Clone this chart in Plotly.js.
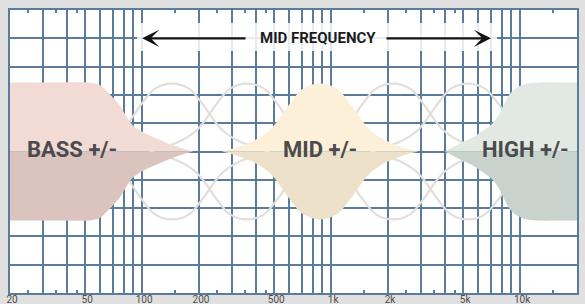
<!DOCTYPE html>
<html>
<head>
<meta charset="utf-8">
<script src="https://cdn.plot.ly/plotly-3.0.1.min.js"></script>
<style>
html,body{margin:0;padding:0;background:#e0e0e0;}
#chart{width:585px;height:304px;}
</style>
</head>
<body>
<div id="chart"></div>
<script>
// ---- data (frequency in Hz, gain in dB) ----
const bassFreq = [20, 35, 51.7, 56.4, 59.9, 70.1, 76.4, 83.2, 89.5, 101.3, 119.8, 145.8, 186];
const bassGain = [12.2, 12.2, 12.2, 12.0, 11.7, 9.5, 8.1, 6.0, 4.6, 3.4, 2.3, 1.1, 0];

const midFreq = [264.6, 310, 372, 420, 475, 524, 606, 710, 873, 1075, 1259, 1456, 1607, 1815, 2051, 2463, 2884];
const midGain = [0, 0.6, 1.6, 2.5, 3.8, 5.5, 8.5, 11.1, 12.0, 11.1, 8.5, 5.5, 3.8, 2.5, 1.6, 0.6, 0];

const highFreq = [4004, 4808, 5637, 6370, 7192, 7834, 8325, 8850, 9640, 10870, 12740, 16000, 20000];
const highGain = [0, 1.4, 2.5, 3.7, 5.1, 6.9, 8.7, 10.2, 11.3, 12.0, 12.2, 12.2, 12.2];

// faint boost/cut bell curves: centres (Hz) and profile (offset in decades, gain dB)
const bellCenters = [144, 359, 2125, 5300];
const bellOffsets = [-0.519, -0.450, -0.370, -0.317, -0.265, -0.222, -0.159, -0.090, 0, 0.090, 0.159, 0.222, 0.265, 0.317, 0.370, 0.450, 0.519];
const bellGain = [0, 0.6, 1.6, 2.5, 3.8, 5.5, 8.5, 11.1, 12.0, 11.1, 8.5, 5.5, 3.8, 2.5, 1.6, 0.6, 0];

const gridVals = [20,30,40,50,60,70,80,90,100,200,300,400,500,600,700,800,900,1000,2000,3000,4000,5000,6000,7000,8000,9000,10000,20000];
const gridText = ['20','','','50','','','','','100','200','','','500','','','','','1k','2k','','','5k','','','','','10k','20k'];
const minorVals = [25,35,45,150,250,350,450,1500,2500,3500,4500,15000];

const bandLabels = ['BASS +/-', 'MID +/-', 'HIGH +/-'];
const bandLabelFreq = [42.6, 873, 10620];
const midFreqLabel = 'MID FREQUENCY';

// ---- styles ----
const gridColor = '#5b7b9a';
const curveColor = '#e2dfdb';
const bands = [
  {f: bassFreq, g: bassGain, up: '#f2dad5', dn: '#dbc4bd'},
  {f: midFreq,  g: midGain,  up: '#fdf0d9', dn: '#eee1c9'},
  {f: highFreq, g: highGain, up: '#e1e9e2', dn: '#c9d3cd'}
];

const traces = [];
bellCenters.forEach(c => {
  const xs = bellOffsets.map(o => c * Math.pow(10, o));
  [1, -1].forEach(s => {
    traces.push({
      type: 'scatter', mode: 'lines', x: xs, y: bellGain.map(g => s * g),
      line: {color: curveColor, width: 2.2, shape: 'spline'}, hoverinfo: 'skip'
    });
  });
});
bands.forEach(b => {
  traces.push({
    type: 'scatter', mode: 'lines', x: b.f, y: b.g.map(g => -g),
    fill: 'tozeroy', fillcolor: b.dn, line: {width: 0, shape: 'spline', color: b.dn}, hoverinfo: 'skip'
  });
  traces.push({
    type: 'scatter', mode: 'lines', x: b.f, y: b.g,
    fill: 'tozeroy', fillcolor: b.up, line: {width: 0, shape: 'spline', color: b.up}, hoverinfo: 'skip'
  });
});

const annotations = bandLabels.map((t, i) => ({
  x: Math.log10(bandLabelFreq[i]), y: 0.4, xref: 'x', yref: 'y',
  text: t, showarrow: false, xanchor: 'center', yanchor: 'middle',
  font: {family: 'Roboto, sans-serif', size: 22, color: '#4b4b4d', weight: 'bold'}
}));
annotations.push({
  x: Math.log10(848), y: 20, xref: 'x', yref: 'y', text: midFreqLabel,
  showarrow: false, xanchor: 'center', yanchor: 'middle',
  font: {family: 'Roboto, sans-serif', size: 15, color: '#1c1c1e', weight: 'bold'}
});
annotations.push({
  x: Math.log10(100), y: 20, ax: Math.log10(359), ay: 20, xref: 'x', yref: 'y', axref: 'x', ayref: 'y',
  text: '', showarrow: true, arrowhead: 3, arrowsize: 1.3, arrowwidth: 2.2, arrowcolor: '#141414', standoff: 0
});
annotations.push({
  x: Math.log10(7016), y: 20, ax: Math.log10(1929), ay: 20, xref: 'x', yref: 'y', axref: 'x', ayref: 'y',
  text: '', showarrow: true, arrowhead: 3, arrowsize: 1.3, arrowwidth: 2.2, arrowcolor: '#141414', standoff: 0
});

const layout = {
  width: 585, height: 304,
  margin: {l: 10, r: 8, t: 10, b: 11},
  paper_bgcolor: '#e0e0e0', plot_bgcolor: '#ffffff',
  showlegend: false,
  xaxis: {
    type: 'log', range: [Math.log10(20), Math.log10(20000)],
    tickmode: 'array', tickvals: gridVals, ticktext: gridText,
    showgrid: true, gridcolor: gridColor, gridwidth: 2,
    ticks: '', showline: true, linecolor: gridColor, linewidth: 2, mirror: 'ticks',
    tickfont: {family: 'Roboto, sans-serif', size: 10, color: '#4a4a4a'},
    ticklabelshift: 2, ticklabelstandoff: -4,
    minor: {tickmode: 'array', tickvals: minorVals, ticks: 'inside', ticklen: 3, tickwidth: 2, tickcolor: gridColor, showgrid: false},
    zeroline: false, fixedrange: true
  },
  yaxis: {
    range: [-25, 25], dtick: 5, tick0: 0,
    showgrid: true, gridcolor: gridColor, gridwidth: 2,
    showticklabels: false, ticks: '', zeroline: false,
    showline: true, linecolor: gridColor, linewidth: 2, mirror: true, fixedrange: true
  },
  shapes: [{
    type: 'rect', xref: 'paper', yref: 'y', x0: 0.224, x1: 0.859, y0: 17.75, y1: 22.7,
    fillcolor: 'rgba(255,255,255,0.85)', line: {width: 0}, layer: 'above'
  }],
  annotations: annotations
};

Plotly.newPlot('chart', traces, layout, {displayModeBar: false, staticPlot: true});
</script>
</body>
</html>
